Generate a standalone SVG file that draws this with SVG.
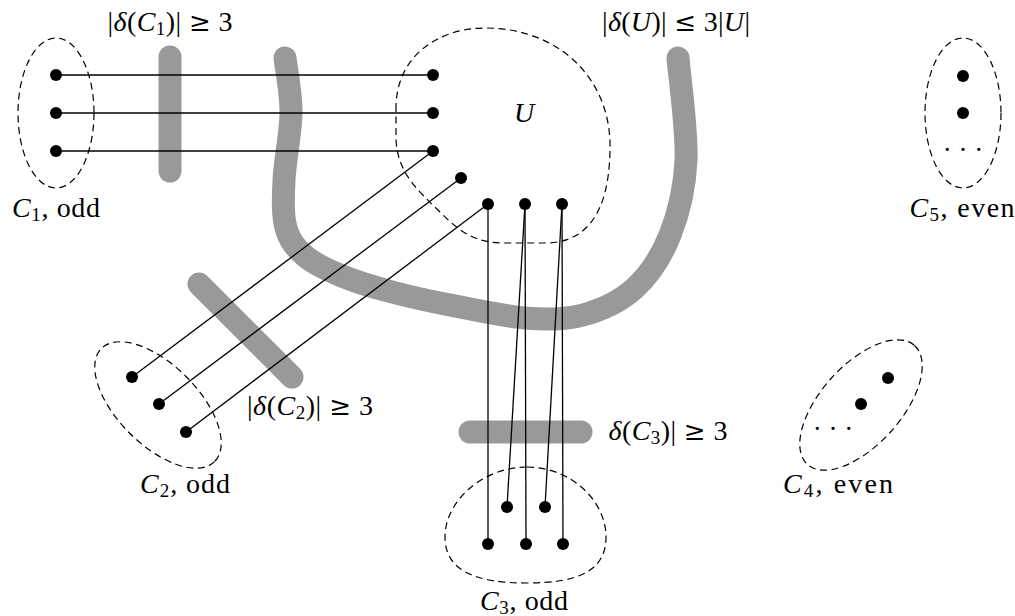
<svg xmlns="http://www.w3.org/2000/svg" width="1015" height="616" viewBox="0 0 1015 616">
<style>
text{font-family:"Liberation Serif","DejaVu Serif",serif;font-size:28px;fill:#000;text-anchor:middle}
.i{font-style:italic}
.s{font-size:19px}
.r{font-family:"DejaVu Serif",serif;font-size:26px}
.set{fill:none;stroke:#000;stroke-width:1.2;stroke-dasharray:7 4.5}
.cut{fill:none;stroke:#999;stroke-width:23;stroke-linecap:round;stroke-linejoin:round}
.e{stroke:#000;stroke-width:1.3;fill:none}
.v{fill:#000}
</style>
<rect width="1015" height="616" fill="#fff"/>
<g id="cuts">
<line class="cut" x1="170" y1="57" x2="170" y2="171"/>
<line class="cut" x1="199" y1="284" x2="292" y2="377"/>
<line class="cut" x1="470" y1="432" x2="581" y2="432"/>
<path class="cut" d="M285,58 C286,67.2 291.2,92.7 291,113 C290.8,133.3 284.8,160.8 284,180 C283.2,199.2 282.5,215.3 286,228 C289.5,240.7 295.7,248 305,256 C314.3,264 327.5,270 342,276 C356.5,282 374,287.2 392,292 C410,296.8 427.8,300.7 450,305 C472.2,309.3 502.8,316.3 525,318 C547.2,319.7 564.7,320 583,315 C601.3,310 620.5,301.3 635,288 C649.5,274.7 661.5,256.3 670,235 C678.5,213.7 684.7,189.5 686,160 C687.3,130.5 679.3,75 678,58"/>
</g>
<g id="C1">
<ellipse class="set" cx="56" cy="113" rx="38" ry="75"/>
<circle class="v" cx="56" cy="75" r="6"/>
<circle class="v" cx="56" cy="113" r="6"/>
<circle class="v" cx="56" cy="151" r="6"/>
<text x="56" y="217" textLength="88"><tspan class="i">C</tspan><tspan class="s" dy="4">1</tspan><tspan dy="-4">, odd</tspan></text>
</g>
<g id="U">
<path class="set" d="M396,110 C395,55 440,28 485,28 C560,28 612,80 610,150 C609,215 585,243 545,243 L505,243 C475,243 460,232 440,212 C420,192 398,175 396,140 Z"/>
<circle class="v" cx="433" cy="75" r="6"/>
<circle class="v" cx="433" cy="113" r="6"/>
<circle class="v" cx="433" cy="151" r="6"/>
<circle class="v" cx="461" cy="178" r="6"/>
<circle class="v" cx="488" cy="204" r="6"/>
<circle class="v" cx="525" cy="204" r="6"/>
<circle class="v" cx="562" cy="204" r="6"/>
<text class="i" x="524" y="122">U</text>
</g>
<g id="C2">
<ellipse class="set" cx="158" cy="405" rx="80" ry="40" transform="rotate(45 158 405)"/>
<circle class="v" cx="132" cy="377" r="6"/>
<circle class="v" cx="159" cy="404" r="6"/>
<circle class="v" cx="186" cy="432" r="6"/>
<text x="185" y="493" textLength="90"><tspan class="i">C</tspan><tspan class="s" dy="4">2</tspan><tspan dy="-4">, odd</tspan></text>
</g>
<g id="C3">
<path class="set" d="M527,467 C570,467 606,500 606,537 C606,570 580,583 527,583 C474,583 445,570 445,537 C445,500 484,467 527,467 Z"/>
<circle class="v" cx="507" cy="507" r="6"/>
<circle class="v" cx="545" cy="507" r="6"/>
<circle class="v" cx="488" cy="544" r="6"/>
<circle class="v" cx="526" cy="544" r="6"/>
<circle class="v" cx="563" cy="544" r="6"/>
<text x="524" y="610" textLength="88"><tspan class="i">C</tspan><tspan class="s" dy="4">3</tspan><tspan dy="-4">, odd</tspan></text>
</g>
<g id="C4">
<ellipse class="set" cx="861" cy="405" rx="80" ry="40" transform="rotate(-48 861 405)"/>
<circle class="v" cx="888" cy="378" r="6"/>
<circle class="v" cx="861" cy="404" r="6"/>
<text x="833" y="438" style="font-size:27px">· · ·</text>
<text x="838" y="493" textLength="110"><tspan class="i">C</tspan><tspan class="s" dy="4">4</tspan><tspan dy="-4">, even</tspan></text>
</g>
<g id="C5">
<ellipse class="set" cx="963" cy="113" rx="38" ry="75"/>
<circle class="v" cx="963" cy="76" r="6"/>
<circle class="v" cx="963" cy="113" r="6"/>
<text x="963" y="159" style="font-size:27px">· · ·</text>
<text x="962" y="217" textLength="105"><tspan class="i">C</tspan><tspan class="s" dy="4">5</tspan><tspan dy="-4">, even</tspan></text>
</g>
<g id="edges">
<line class="e" x1="56" y1="75" x2="433" y2="75"/>
<line class="e" x1="56" y1="113" x2="433" y2="113"/>
<line class="e" x1="56" y1="151" x2="433" y2="151"/>
<line class="e" x1="132" y1="377" x2="433" y2="151"/>
<line class="e" x1="159" y1="404" x2="461" y2="178"/>
<line class="e" x1="186" y1="432" x2="488" y2="204"/>
<line class="e" x1="488" y1="204" x2="488" y2="544"/>
<line class="e" x1="525" y1="204" x2="507" y2="507"/>
<line class="e" x1="525" y1="204" x2="526" y2="544"/>
<line class="e" x1="562" y1="204" x2="545" y2="507"/>
<line class="e" x1="562" y1="204" x2="563" y2="544"/>
</g>
<g id="labels">
<text x="170" y="31" textLength="125">|<tspan class="i">δ</tspan>(<tspan class="i">C</tspan><tspan class="s" dy="4">1</tspan><tspan dy="-4">)| </tspan><tspan class="r">≥</tspan> 3</text>
<text x="676" y="31" textLength="148">|<tspan class="i">δ</tspan>(<tspan class="i">U</tspan>)| <tspan class="r">≤</tspan> 3|<tspan class="i">U</tspan>|</text>
<text x="310" y="415" textLength="126">|<tspan class="i">δ</tspan>(<tspan class="i">C</tspan><tspan class="s" dy="4">2</tspan><tspan dy="-4">)| </tspan><tspan class="r">≥</tspan> 3</text>
<text x="668" y="440" textLength="119"><tspan class="i">δ</tspan>(<tspan class="i">C</tspan><tspan class="s" dy="4">3</tspan><tspan dy="-4">)| </tspan><tspan class="r">≥</tspan> 3</text>
</g>
</svg>
